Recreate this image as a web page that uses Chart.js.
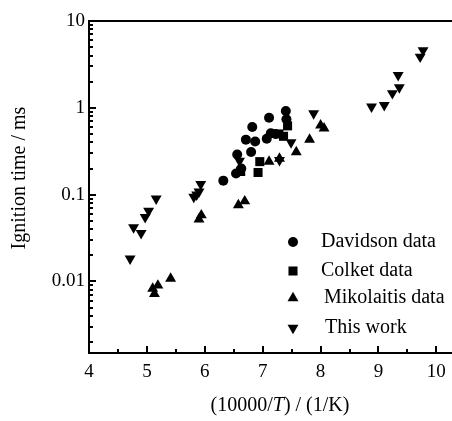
<!DOCTYPE html>
<html lang="en">
<head>
  <meta charset="UTF-8" />
  <title>Ignition time</title>
  <script src="https://cdn.jsdelivr.net/npm/chart.js"></script>
  <style>
    body { margin: 0; background: #fff; }
    #wrap { width: 452px; height: 421px; }
  </style>
</head>
<body>
  <div id="wrap"><canvas id="ignChart" width="452" height="421"></canvas></div>

  <script>
    // values: x = 10000/T (1/K), y = ignition time (ms)
    const davidsonX = [6.32, 6.54, 6.56, 6.63, 6.71, 6.80, 6.82, 6.87, 7.07, 7.11, 7.14, 7.22, 7.40, 7.41];
    const davidsonY = [0.145, 0.175, 0.29, 0.20, 0.43, 0.31, 0.60, 0.41, 0.44, 0.77, 0.51, 0.50, 0.92, 0.74];

    const colketX = [6.62, 6.92, 6.95, 7.28, 7.36, 7.43];
    const colketY = [0.185, 0.18, 0.24, 0.50, 0.47, 0.62];

    const mikolaitisX = [5.10, 5.13, 5.19, 5.41, 5.90, 5.94, 6.58, 6.69, 7.11, 7.29, 7.58, 7.81, 8.00, 8.06];
    const mikolaitisY = [0.0083, 0.0072, 0.0090, 0.0108, 0.052, 0.058, 0.076, 0.084, 0.24, 0.26, 0.31, 0.43, 0.63, 0.58];

    const thisWorkX = [4.71, 4.77, 4.90, 4.97, 5.03, 5.16, 5.81, 5.86, 5.90, 5.93, 6.60, 7.29, 7.49, 7.88, 8.88, 9.10, 9.24, 9.36, 9.34, 9.72, 9.77];
    const thisWorkY = [0.0183, 0.042, 0.036, 0.055, 0.065, 0.090, 0.094, 0.100, 0.108, 0.132, 0.245, 0.25, 0.40, 0.86, 1.03, 1.07, 1.47, 1.72, 2.38, 3.87, 4.6];

    const seriesNames = ['Davidson data', 'Colket data', 'Mikolaitis data', 'This work'];

    const xMin = 4, xMax = 10.27;
    const yMin = 0.0015, yMax = 10;
    const yTickLabels = ['0.01', '0.1', '1', '10'];

    const SERIF = "'Liberation Serif', 'Times New Roman', serif";

    function toPoints(xs, ys) {
      return xs.map((x, i) => ({ x: x, y: ys[i] }));
    }

    // 1..9 x each decade inside the axis range
    function logTicks() {
      const out = [];
      for (let e = -3; e <= 1; e++) {
        for (let m = 1; m <= 9; m++) {
          const v = Number((m * Math.pow(10, e)).toPrecision(3));
          if (v >= yMin && v <= yMax) out.push({ value: v, major: m === 1 });
        }
      }
      return out;
    }

    function drawMarker(ctx, style, r, rot, x, y) {
      if (Chart.helpers && Chart.helpers.drawPoint) {
        Chart.helpers.drawPoint(ctx, { pointStyle: style, radius: r, rotation: rot, borderWidth: 0 }, x, y);
        return;
      }
      ctx.beginPath();
      ctx.arc(x, y, r, 0, Math.PI * 2);
      ctx.fill();
    }

    // inward ticks, top frame line, axis titles and the legend inside the plot
    const frame = {
      id: 'frame',
      afterDraw(chart) {
        const { ctx, chartArea: a, scales: { x, y } } = chart;
        ctx.save();
        ctx.strokeStyle = '#000';
        ctx.fillStyle = '#000';

        ctx.lineWidth = 2;
        ctx.beginPath();
        ctx.moveTo(a.left - 1, a.top);
        ctx.lineTo(a.right, a.top);
        ctx.stroke();

        x.ticks.forEach(t => {
          const px = Math.round(x.getPixelForValue(t.value));
          const len = Number.isInteger(t.value) ? 7 : 4;
          ctx.beginPath();
          ctx.moveTo(px, a.bottom);
          ctx.lineTo(px, a.bottom - len);
          ctx.stroke();
        });
        y.ticks.forEach(t => {
          const py = Math.round(y.getPixelForValue(t.value));
          const len = t.major ? 7 : 4;
          ctx.beginPath();
          ctx.moveTo(a.left, py);
          ctx.lineTo(a.left + len, py);
          ctx.stroke();
        });

        // y title
        ctx.font = '20px ' + SERIF;
        ctx.textBaseline = 'middle';
        ctx.textAlign = 'center';
        ctx.save();
        ctx.translate(20, 178);
        ctx.rotate(-Math.PI / 2);
        ctx.fillText('Ignition time / ms', 0, 0);
        ctx.restore();

        // x title with italic T
        const parts = [['(10000/', false], ['T', true], [') / (1/K)', false]];
        let total = 0;
        parts.forEach(p => {
          ctx.font = (p[1] ? 'italic ' : '') + '20px ' + SERIF;
          total += ctx.measureText(p[0]).width;
        });
        let cx = 280 - total / 2;
        ctx.textAlign = 'left';
        parts.forEach(p => {
          ctx.font = (p[1] ? 'italic ' : '') + '20px ' + SERIF;
          ctx.fillText(p[0], cx, 406);
          cx += ctx.measureText(p[0]).width;
        });

        // legend
        const rowY = [242, 271, 298, 328];
        const textX = [321, 321, 324, 325];
        ctx.font = '20px ' + SERIF;
        chart.data.datasets.forEach((ds, i) => {
          drawMarker(ctx, ds.pointStyle, ds.pointRadius, ds.pointRotation || 0, 293, rowY[i]);
          ctx.fillText(ds.label, textX[i], rowY[i]);
        });
        ctx.restore();
      }
    };

    const base = { backgroundColor: '#000', borderColor: '#000', borderWidth: 0, showLine: false };

    new Chart(document.getElementById('ignChart'), {
      type: 'scatter',
      data: {
        datasets: [
          Object.assign({ label: seriesNames[0], data: toPoints(davidsonX, davidsonY), pointStyle: 'circle', pointRadius: 5 }, base),
          Object.assign({ label: seriesNames[1], data: toPoints(colketX, colketY), pointStyle: 'rect', pointRadius: 6.4 }, base),
          Object.assign({ label: seriesNames[2], data: toPoints(mikolaitisX, mikolaitisY), pointStyle: 'triangle', pointRadius: 6.3 }, base),
          Object.assign({ label: seriesNames[3], data: toPoints(thisWorkX, thisWorkY), pointStyle: 'triangle', pointRotation: 180, pointRadius: 6.3 }, base)
        ]
      },
      options: {
        responsive: false,
        animation: false,
        devicePixelRatio: 1,
        events: [],
        layout: { autoPadding: false, padding: { top: 21, right: 0, left: 0, bottom: 0 } },
        plugins: {
          legend: { display: false },
          tooltip: { enabled: false }
        },
        scales: {
          x: {
            type: 'linear',
            min: xMin,
            max: xMax,
            grid: { display: false, drawTicks: false },
            border: { display: true, color: '#000', width: 2 },
            ticks: {
              stepSize: 0.5,
              includeBounds: false,
              autoSkip: false,
              maxRotation: 0,
              padding: 8,
              color: '#000',
              font: { family: SERIF, size: 19 },
              callback: v => Number.isInteger(v) ? String(v) : ''
            },
            afterFit: s => { s.height = 68; s.paddingLeft = 0; s.paddingRight = 0; }
          },
          y: {
            type: 'logarithmic',
            min: yMin,
            max: yMax,
            grid: { display: false, drawTicks: false },
            border: { display: true, color: '#000', width: 2 },
            afterBuildTicks: s => { s.ticks = logTicks(); },
            ticks: {
              autoSkip: false,
              padding: 4,
              color: '#000',
              font: { family: SERIF, size: 19 },
              callback: v => {
                const lab = yTickLabels.find(l => Math.abs(Number(l) - v) < 1e-9);
                return lab || '';
              }
            },
            afterFit: s => { s.width = 89; s.paddingTop = 0; s.paddingBottom = 0; }
          }
        }
      },
      plugins: [frame]
    });
  </script>
</body>
</html>
